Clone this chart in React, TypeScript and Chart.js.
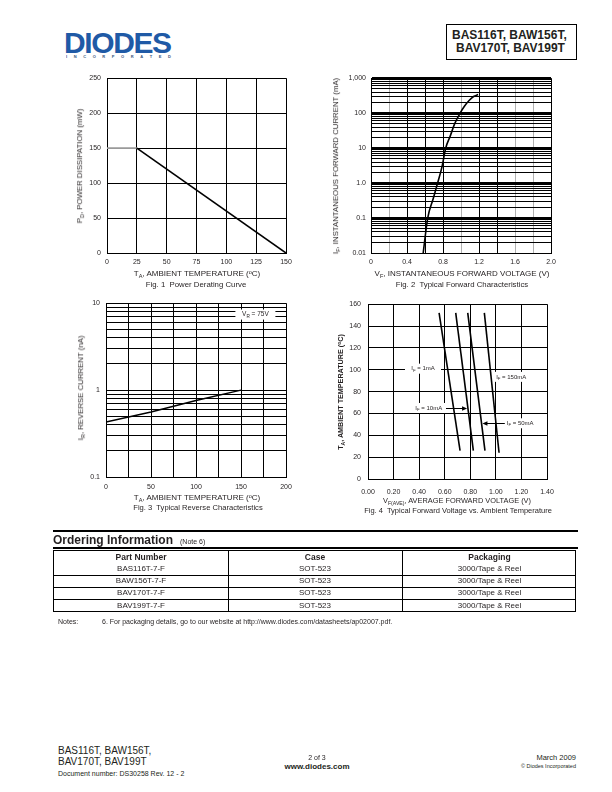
import React, { useEffect, useRef } from 'react';
import { Chart, registerables } from 'chart.js';

Chart.register(...registerables);

const FONT = '"Liberation Sans", Arial, Helvetica, sans-serif';
const INK = '#231f20';
const BLUE = '#1f5aa6';

// ---------- Fig. 1 Power Derating Curve ----------
const fig1Temperature = [0, 25, 150];
const fig1Power = [150, 150, 0];
const fig1XTicks = [0, 25, 50, 75, 100, 125, 150];
const fig1YTicks = [0, 50, 100, 150, 200, 250];

// ---------- Fig. 2 Typical Forward Characteristics ----------
const fig2Voltage = [0.58, 0.63, 0.69, 0.74, 0.79, 0.83, 0.88, 0.93, 0.99, 1.04, 1.09, 1.14, 1.19];
const fig2Current = [0.01, 0.1, 0.35, 1, 3, 10, 22, 50, 100, 160, 230, 300, 340];
const fig2XTicks = [0, 0.2, 0.4, 0.6, 0.8, 1.0, 1.2, 1.4, 1.6, 1.8, 2.0];
const fig2XLabels = ['0', '', '0.4', '', '0.8', '', '1.2', '', '1.6', '', '2.0'];
const fig2XGreyLines = [0.2, 1.0, 1.6, 1.8];
const fig2YDecades = [0.01, 0.1, 1, 10, 100, 1000];
const fig2YLabels = ['0.01', '0.1', '1.0', '10', '100', '1,000'];

// ---------- Fig. 3 Typical Reverse Characteristics ----------
const fig3Temperature = [0, 50, 100, 150];
const fig3Current = [0.43, 0.56, 0.76, 1.0];
const fig3XTicks = [0, 25, 50, 75, 100, 125, 150, 175, 200];
const fig3XLabels = ['0', '', '50', '', '100', '', '150', '', '200'];
const fig3YDecades = [0.1, 1, 10];
const fig3YLabels = ['0.1', '1', '10'];

// ---------- Fig. 4 Typical Forward Voltage vs. Ambient Temperature ----------
const fig4Temperature = [152, 26];
const fig4Temperature150 = [152, 24];
const fig4V1mA = [0.556, 0.72];
const fig4V10mA = [0.686, 0.824];
const fig4V50mA = [0.78, 0.915];
const fig4V150mA = [0.91, 1.025];
const fig4XTicks = [0, 0.2, 0.4, 0.6, 0.8, 1.0, 1.2, 1.4];
const fig4XLabels = ['0.00', '0.20', '0.40', '0.60', '0.80', '1.00', '1.20', '1.40'];
const fig4YTicks = [0, 20, 40, 60, 80, 100, 120, 140, 160];

// ---------- Ordering table ----------
const orderHeaders = ['Part Number', 'Case', 'Packaging'];
const orderParts = ['BAS116T-7-F', 'BAW156T-7-F', 'BAV170T-7-F', 'BAV199T-7-F'];
const orderCase = ['SOT-523', 'SOT-523', 'SOT-523', 'SOT-523'];
const orderPack = ['3000/Tape & Reel', '3000/Tape & Reel', '3000/Tape & Reel', '3000/Tape & Reel'];

const YW = 40;
const PT = 8;
const PR = 16;
const XH = 30;

type Box = { L: number; T: number; R: number; B: number };
const box1: Box = { L: 107, T: 76, R: 286, B: 253 };
const box2: Box = { L: 371, T: 77, R: 551, B: 253 };
const box3: Box = { L: 106, T: 301, R: 286, B: 477 };
const box4: Box = { L: 368, T: 301, R: 547, B: 479 };

function rectOf(b: Box) {
  return { left: b.L - YW, top: b.T - PT, width: b.R - b.L + YW + PR, height: b.B - b.T + PT + XH };
}

function logGrid(decades: number[]) {
  const out: number[] = [];
  for (let i = 0; i < decades.length - 1; i++) {
    for (let k = 1; k < 10; k++) out.push(+(decades[i] * k).toPrecision(6));
  }
  out.push(decades[decades.length - 1]);
  return out;
}
const near = (a: number, b: number) => Math.abs(a - b) <= Math.abs(b) * 1e-6 + 1e-12;

function axis(o: any) {
  return {
    type: o.type,
    min: o.min,
    max: o.max,
    position: o.side === 'x' ? 'bottom' : 'left',
    afterBuildTicks: (s: any) => {
      s.ticks = o.ticks.map((v: number) => ({ value: v }));
    },
    afterFit: (s: any) => {
      if (o.side === 'x') s.height = XH;
      else s.width = YW;
    },
    border: { display: true, color: '#000', width: 1 },
    grid: { drawTicks: false, color: o.gridColor ?? '#000', lineWidth: o.gridWidth ?? 1 },
    ticks: {
      autoSkip: false,
      maxRotation: 0,
      minRotation: 0,
      padding: o.padding,
      color: INK,
      font: { family: FONT, size: 7 },
      callback: (v: any) => o.label(Number(v)),
    },
  };
}

type Part = [string, boolean];
function drawRich(ctx: CanvasRenderingContext2D, parts: Part[], cx: number, cy: number, size: number) {
  let w = 0;
  for (const [t, sub] of parts) {
    ctx.font = `${sub ? size * 0.72 : size}px ${FONT}`;
    w += ctx.measureText(t).width;
  }
  let x = cx - w / 2;
  ctx.fillStyle = INK;
  ctx.textBaseline = 'middle';
  ctx.textAlign = 'left';
  for (const [t, sub] of parts) {
    ctx.font = `${sub ? size * 0.72 : size}px ${FONT}`;
    ctx.fillText(t, x, sub ? cy + size * 0.3 : cy);
    x += ctx.measureText(t).width;
  }
}

const richPlugin = {
  id: 'rich',
  beforeDatasetsDraw(chart: any, _a: any, opts: any) {
    const ctx: CanvasRenderingContext2D = chart.ctx;
    const xs = chart.scales.x;
    const ys = chart.scales.y;
    ctx.save();
    for (const b of opts.boxes || []) {
      const cx = xs.getPixelForValue(b.x);
      const cy = ys.getPixelForValue(b.y);
      ctx.fillStyle = '#fff';
      ctx.fillRect(cx - b.w / 2, cy - b.h / 2, b.w, b.h);
      drawRich(ctx, b.parts, cx, cy, b.size ?? 6.5);
    }
    for (const a of opts.arrows || []) {
      const x1 = xs.getPixelForValue(a.from);
      const x2 = xs.getPixelForValue(a.to);
      const y = Math.round(ys.getPixelForValue(a.y)) + 0.5;
      const dir = x2 > x1 ? 1 : -1;
      ctx.strokeStyle = '#000';
      ctx.lineWidth = 1;
      ctx.beginPath();
      ctx.moveTo(x1, y);
      ctx.lineTo(x2 - dir * 4, y);
      ctx.stroke();
      ctx.fillStyle = '#000';
      ctx.beginPath();
      ctx.moveTo(x2, y);
      ctx.lineTo(x2 - dir * 5, y - 2.2);
      ctx.lineTo(x2 - dir * 5, y + 2.2);
      ctx.closePath();
      ctx.fill();
    }
    ctx.restore();
  },
};

const baseOptions = {
  animation: false,
  responsive: false,
  devicePixelRatio: 1,
  events: [],
  layout: { padding: { top: PT, right: PR, left: 0, bottom: 0 } },
};

function line(xs: number[], ys: number[], extra: any = {}) {
  return {
    data: xs.map((x, i) => ({ x, y: ys[i] })),
    borderColor: '#000',
    borderWidth: 1.6,
    pointRadius: 0,
    fill: false,
    tension: 0,
    ...extra,
  };
}

function cfg1(): any {
  return {
    type: 'line',
    data: {
      datasets: [
        line(fig1Temperature, fig1Power, {
          segment: { borderColor: (c: any) => (c.p0DataIndex === 0 ? '#9a9a9a' : '#000') },
        }),
      ],
    },
    options: {
      ...baseOptions,
      plugins: { legend: { display: false }, tooltip: { enabled: false } },
      scales: {
        x: axis({ type: 'linear', side: 'x', min: 0, max: 150, ticks: fig1XTicks, padding: 5, label: (v: number) => String(v) }),
        y: axis({ type: 'linear', side: 'y', min: 0, max: 250, ticks: fig1YTicks, padding: 6, label: (v: number) => String(v) }),
      },
    },
  };
}

function cfg2(): any {
  const yTicks = logGrid(fig2YDecades);
  return {
    type: 'line',
    data: {
      datasets: [line(fig2Voltage, fig2Current, { cubicInterpolationMode: 'monotone' })],
    },
    options: {
      ...baseOptions,
      plugins: { legend: { display: false }, tooltip: { enabled: false } },
      scales: {
        x: axis({
          type: 'linear', side: 'x', min: 0, max: 2, ticks: fig2XTicks, padding: 5,
          label: (v: number) => fig2XLabels[fig2XTicks.findIndex((t) => near(v, t))] ?? '',
          gridColor: (c: any) => (fig2XGreyLines.some((g) => near(c.tick?.value ?? -1, g)) ? '#b0b0b0' : '#000'),
        }),
        y: axis({
          type: 'logarithmic', side: 'y', min: 0.01, max: 1000, ticks: yTicks, padding: 5,
          label: (v: number) => {
            const i = fig2YDecades.findIndex((d) => near(v, d));
            return i >= 0 ? fig2YLabels[i] : '';
          },
          gridWidth: (c: any) => {
            const v = c.tick?.value ?? 0;
            if (near(v, fig2YDecades[0])) return 1;
            return fig2YDecades.some((d) => near(v, d)) ? 3 : 1;
          },
        }),
      },
    },
    plugins: [],
  };
}

const fig3Note: Part[] = [['V', false], ['R', true], [' = 75V', false]];

function cfg3(): any {
  const yTicks = logGrid(fig3YDecades);
  return {
    type: 'line',
    data: { datasets: [line(fig3Temperature, fig3Current, { borderWidth: 1.4 })] },
    options: {
      ...baseOptions,
      plugins: {
        legend: { display: false },
        tooltip: { enabled: false },
        rich: { boxes: [{ x: 166, y: 7.4, w: 40, h: 10, parts: fig3Note }] },
      },
      scales: {
        x: axis({
          type: 'linear', side: 'x', min: 0, max: 200, ticks: fig3XTicks, padding: 6,
          label: (v: number) => fig3XLabels[fig3XTicks.findIndex((t) => near(v, t))] ?? '',
        }),
        y: axis({
          type: 'logarithmic', side: 'y', min: 0.1, max: 10, ticks: yTicks, padding: 6,
          label: (v: number) => {
            const i = fig3YDecades.findIndex((d) => near(v, d));
            return i >= 0 ? fig3YLabels[i] : '';
          },
        }),
      },
    },
    plugins: [richPlugin],
  };
}

const fig4Label1: Part[] = [['I', false], ['F', true], [' = 1mA', false]];
const fig4Label10: Part[] = [['I', false], ['F', true], [' = 10mA', false]];
const fig4Label50: Part[] = [['I', false], ['F', true], [' = 50mA', false]];
const fig4Label150: Part[] = [['I', false], ['F', true], [' = 150mA', false]];

function cfg4(): any {
  return {
    type: 'line',
    data: {
      datasets: [
        line(fig4V1mA, fig4Temperature),
        line(fig4V10mA, fig4Temperature),
        line(fig4V50mA, fig4Temperature),
        line(fig4V150mA, fig4Temperature150),
      ],
    },
    options: {
      ...baseOptions,
      plugins: {
        legend: { display: false },
        tooltip: { enabled: false },
        rich: {
          boxes: [
            { x: 0.43, y: 101, w: 36, h: 10, parts: fig4Label1, size: 6 },
            { x: 0.475, y: 65, w: 40, h: 10, parts: fig4Label10, size: 6 },
            { x: 1.12, y: 93.5, w: 42, h: 10, parts: fig4Label150, size: 6 },
            { x: 1.19, y: 51, w: 40, h: 10, parts: fig4Label50, size: 6 },
          ],
          arrows: [
            { from: 0.61, to: 0.775, y: 65 },
            { from: 1.07, to: 0.895, y: 51 },
          ],
        },
      },
      scales: {
        x: axis({
          type: 'linear', side: 'x', min: 0, max: 1.4, ticks: fig4XTicks, padding: 9,
          label: (v: number) => fig4XLabels[fig4XTicks.findIndex((t) => near(v, t))] ?? '',
        }),
        y: axis({ type: 'linear', side: 'y', min: 0, max: 160, ticks: fig4YTicks, padding: 7, label: (v: number) => String(v) }),
      },
    },
    plugins: [richPlugin],
  };
}

const Sub = ({ children }: any) => (
  <span style={{ fontSize: '0.7em', verticalAlign: '-0.3em', lineHeight: 0 }}>{children}</span>
);
const Sup = ({ children }: any) => (
  <span style={{ fontSize: '0.7em', verticalAlign: '0.4em', lineHeight: 0 }}>{children}</span>
);

function T({ x, y, a = 'l', s = 7, b = false, c = INK, children, style }: any) {
  const tx = a === 'c' ? '-50%' : a === 'r' ? '-100%' : '0';
  return (
    <div
      style={{
        position: 'absolute',
        left: x,
        top: y,
        transform: `translate(${tx}, -50%)`,
        fontSize: s,
        fontWeight: b ? 'bold' : 'normal',
        color: c,
        whiteSpace: 'pre',
        lineHeight: 1,
        fontFamily: FONT,
        ...style,
      }}
    >
      {children}
    </div>
  );
}

function RT({ x, y, s = 7.8, b = false, children }: any) {
  return (
    <div
      style={{
        position: 'absolute',
        left: x,
        top: y,
        transform: 'translate(-50%, -50%) rotate(-90deg)',
        fontSize: s,
        fontWeight: b ? 'bold' : 'normal',
        color: INK,
        whiteSpace: 'pre',
        lineHeight: 1,
        fontFamily: FONT,
      }}
    >
      {children}
    </div>
  );
}

function Canvas({ r, b }: any) {
  const rc = rectOf(b);
  return (
    <canvas
      ref={r}
      width={rc.width}
      height={rc.height}
      style={{ position: 'absolute', left: rc.left, top: rc.top, width: rc.width, height: rc.height }}
    />
  );
}

const HLine = ({ x1, x2, y, w = 1 }: any) => (
  <div style={{ position: 'absolute', left: x1, top: y - w / 2, width: x2 - x1, height: w, background: '#000' }} />
);
const VLine = ({ x, y1, y2, w = 1 }: any) => (
  <div style={{ position: 'absolute', left: x - w / 2, top: y1, width: w, height: y2 - y1, background: '#000' }} />
);

export default function App() {
  const r1 = useRef<HTMLCanvasElement>(null);
  const r2 = useRef<HTMLCanvasElement>(null);
  const r3 = useRef<HTMLCanvasElement>(null);
  const r4 = useRef<HTMLCanvasElement>(null);

  useEffect(() => {
    const charts = [
      new Chart(r1.current as HTMLCanvasElement, cfg1()),
      new Chart(r2.current as HTMLCanvasElement, cfg2()),
      new Chart(r3.current as HTMLCanvasElement, cfg3()),
      new Chart(r4.current as HTMLCanvasElement, cfg4()),
    ];
    return () => charts.forEach((c) => c.destroy());
  }, []);

  const colX = [54, 228, 402, 577];
  const rowY = [551, 563, 575, 587, 599.5, 612.5];

  return (
    <div style={{ position: 'absolute', left: 0, top: 0, width: 612, height: 792, background: '#fff', fontFamily: FONT, overflow: 'hidden' }}>
      {/* Logo */}
      <div
        style={{
          position: 'absolute', left: 64, top: 27.5, fontSize: 30, lineHeight: 1, fontWeight: 'bold',
          color: BLUE, letterSpacing: -1.4, fontFamily: FONT, whiteSpace: 'pre',
        }}
      >
        DIODES
      </div>
      <div
        style={{
          position: 'absolute', left: 66, top: 54.5, width: 210, transform: 'scale(0.5)', transformOrigin: 'left top',
          display: 'flex', justifyContent: 'space-between', fontSize: 8, lineHeight: 1, color: '#3a5680', fontWeight: 'bold',
        }}
      >
        {'INCORPORATED'.split('').map((ch, i) => (
          <span key={i}>{ch}</span>
        ))}
      </div>

      {/* Header part numbers box */}
      <div style={{ position: 'absolute', left: 446, top: 24, width: 129, height: 34, border: '1.3px solid #000' }} />
      <T x={452} y={35} s={12} b>BAS116T, BAW156T,</T>
      <T x={456} y={48} s={12} b>BAV170T, BAV199T</T>

      {/* Fig 1 */}
      <Canvas r={r1} b={box1} />
      <RT x={80} y={166}>P<Sub>D</Sub>, POWER DISSIPATION (mW)</RT>
      <T x={197} y={274} a="c" s={8}>T<Sub>A</Sub>, AMBIENT TEMPERATURE (<Sup>o</Sup>C)</T>
      <T x={196} y={284.5} a="c" s={7.8}>Fig. 1  Power Derating Curve</T>

      {/* Fig 2 */}
      <Canvas r={r2} b={box2} />
      <RT x={336} y={166}>I<Sub>F</Sub>, INSTANTANEOUS FORWARD CURRENT (mA)</RT>
      <T x={462} y={274} a="c" s={8}>V<Sub>F</Sub>, INSTANTANEOUS FORWARD VOLTAGE (V)</T>
      <T x={462} y={284.5} a="c" s={7.8}>Fig. 2  Typical Forward Characteristics</T>

      {/* Fig 3 */}
      <Canvas r={r3} b={box3} />
      <RT x={81} y={388}>I<Sub>R</Sub>, REVERSE CURRENT (nA)</RT>
      <T x={197} y={497.5} a="c" s={8}>T<Sub>A</Sub>, AMBIENT TEMPERATURE (<Sup>o</Sup>C)</T>
      <T x={198} y={508} a="c" s={7.6}>Fig. 3  Typical Reverse Characteristics</T>

      {/* Fig 4 */}
      <Canvas r={r4} b={box4} />
      <RT x={341} y={392} s={7.2} b>T<Sub>A</Sub>, AMBIENT TEMPERATURE (<Sup>o</Sup>C)</RT>
      <T x={457} y={501} a="c" s={7.4}>V<Sub>F(AVE)</Sub>, AVERAGE FORWARD VOLTAGE (V)</T>
      <T x={458} y={511} a="c" s={7.5}>Fig. 4  Typical Forward Voltage vs. Ambient Temperature</T>

      {/* Ordering information */}
      <HLine x1={53} x2={578} y={530.5} w={2} />
      <T x={53} y={539.5} s={12} b>Ordering Information</T>
      <T x={180} y={540.5} s={7}>(Note 6)</T>
      <HLine x1={53} x2={578} y={547.5} w={2} />

      <div style={{ position: 'absolute', left: 53, top: 550, width: 521, height: 60, border: '1.6px solid #000' }} />
      <VLine x={colX[1]} y1={551} y2={612} />
      <VLine x={colX[2]} y1={551} y2={612} />
      {[2, 3, 4].map((i) => (
        <HLine key={i} x1={54} x2={576} y={rowY[i]} w={1} />
      ))}
      {orderHeaders.map((h, i) => (
        <T key={h} x={(colX[i] + colX[i + 1]) / 2} y={557} a="c" s={8.5} b>
          {h}
        </T>
      ))}
      {orderParts.map((p, r) => (
        <React.Fragment key={p}>
          <T x={(colX[0] + colX[1]) / 2} y={(rowY[r + 1] + rowY[r + 2]) / 2} a="c" s={8}>{p}</T>
          <T x={(colX[1] + colX[2]) / 2} y={(rowY[r + 1] + rowY[r + 2]) / 2} a="c" s={8}>{orderCase[r]}</T>
          <T x={(colX[2] + colX[3]) / 2} y={(rowY[r + 1] + rowY[r + 2]) / 2} a="c" s={8}>{orderPack[r]}</T>
        </React.Fragment>
      ))}

      <T x={58} y={621} s={7}>Notes:</T>
      <T x={102} y={621} s={7}>6. For packaging details, go to our website at http://www.diodes.com/datasheets/ap02007.pdf.</T>

      {/* Footer */}
      <T x={58} y={751} s={10}>BAS116T, BAW156T,</T>
      <T x={58} y={762} s={10}>BAV170T, BAV199T</T>
      <T x={58} y={773} s={7}>Document number: DS30258 Rev. 12 - 2</T>
      <T x={317} y={757} a="c" s={7}>2 of 3</T>
      <T x={317} y={767} a="c" s={8} b>www.diodes.com</T>
      <T x={576} y={758} a="r" s={7.5}>March 2009</T>
      <T x={576} y={767} a="r" s={5.5}>© Diodes Incorporated</T>
    </div>
  );
}
